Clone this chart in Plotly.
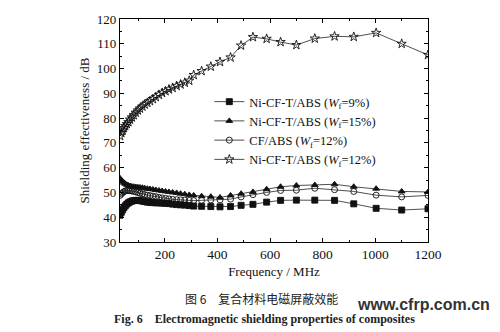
import plotly.graph_objects as go

freq = [30, 35, 40, 45, 50, 56, 62, 68, 75, 82, 90, 98, 106, 115, 124, 134, 144, 155, 166, 178,
        190, 203, 216, 230, 245, 260, 276, 293, 310, 340, 375, 410, 450, 490, 535, 587, 640, 700,
        770, 845, 918, 1003, 1100, 1200]

se_9 = [40.8, 42.0, 43.0, 43.9, 44.6, 45.3, 45.8, 46.2, 46.5, 46.7, 46.8, 46.8, 46.7, 46.5, 46.3,
        46.1, 46.0, 45.9, 45.8, 45.8, 45.7, 45.6, 45.5, 45.3, 45.1, 45.0, 44.9, 44.7, 44.5, 44.4,
        44.3, 44.2, 44.3, 44.8, 45.2, 46.1, 46.8, 46.9, 46.9, 46.8, 45.4, 43.6, 42.9, 43.4]

se_15 = [55.7, 55.0, 54.4, 53.9, 53.5, 53.1, 52.8, 52.6, 52.4, 52.3, 52.2, 52.1, 52.0, 51.9, 51.7,
         51.5, 51.4, 51.2, 51.0, 50.8, 50.6, 50.4, 50.2, 50.0, 49.8, 49.5, 49.3, 49.0, 48.8, 48.5,
         48.3, 48.0, 48.8, 49.5, 50.2, 51.3, 52.3, 52.8, 53.0, 53.3, 52.3, 51.5, 50.4, 50.2]

se_cf = [48.8, 49.4, 49.9, 50.3, 50.6, 50.8, 50.8, 50.7, 50.6, 50.4, 50.2, 50.0, 49.7, 49.4, 49.1,
         48.9, 48.7, 48.5, 48.3, 48.0, 47.8, 47.6, 47.4, 47.2, 47.1, 47.0, 46.9, 46.8, 46.7, 46.8,
         47.0, 47.0, 47.3, 48.2, 49.1, 50.0, 50.8, 50.9, 51.7, 51.1, 50.4, 48.9, 48.2, 48.8]

se_12 = [72.8, 74.0, 75.0, 76.0, 76.8, 77.6, 78.4, 79.4, 80.3, 81.2, 82.2, 83.1, 83.9, 84.7, 85.5,
         86.2, 86.9, 87.7, 88.5, 89.4, 90.2, 90.9, 91.6, 92.2, 93.0, 93.6, 94.3, 95.1, 97.4, 99.0,
         100.8, 102.7, 104.5, 109.3, 112.7, 112.0, 110.7, 109.5, 112.1, 113.0, 112.8, 114.4, 110.0, 105.5]

names = ["Ni-CF-T/ABS (<i>W</i><sub>f</sub>=9%)",
         "Ni-CF-T/ABS (<i>W</i><sub>f</sub>=15%)",
         "CF/ABS (<i>W</i><sub>f</sub>=12%)",
         "Ni-CF-T/ABS (<i>W</i><sub>f</sub>=12%)"]
symbols = ["square", "triangle-up", "circle-open", "star-open"]
sizes = [6, 6, 6, 7]
series = [se_9, se_15, se_cf, se_12]

serif = "Liberation Serif, Times New Roman, serif"
fig = go.Figure()
for nm, sym, sz, ys in zip(names, symbols, sizes, series):
    fig.add_trace(go.Scatter(
        x=freq, y=ys, name=nm, mode="lines+markers",
        line=dict(color="#222", width=0.8),
        marker=dict(symbol=sym, size=sz, color="#111",
                    line=dict(color="#111", width=0.9)),
    ))

axis_common = dict(showline=True, linecolor="black", linewidth=1.2, mirror="ticks",
                   ticks="inside", ticklen=4, tickcolor="black", showgrid=False, zeroline=False)

fig.update_xaxes(range=[30, 1200], tickvals=[200, 400, 600, 800, 1000, 1200],
                 minor=dict(tickvals=[100, 300, 500, 700, 900, 1100], ticks="inside", ticklen=2, tickcolor="black"),
                 tickfont=dict(family=serif, size=13.5, color="#111"),
                 title=dict(text="Frequency / MHz", font=dict(family=serif, size=13, color="#111"), standoff=5),
                 **axis_common)
fig.update_yaxes(range=[30, 120], dtick=10,
                 minor=dict(dtick=5, ticks="inside", ticklen=2, tickcolor="black"),
                 tickfont=dict(family=serif, size=13, color="#111"),
                 title=dict(text="Shielding effectiveness / dB", font=dict(family=serif, size=13, color="#111"), standoff=4),
                 **axis_common)

fig.update_layout(
    width=500, height=332,
    margin=dict(l=120, r=72, t=14, b=90),
    paper_bgcolor="white", plot_bgcolor="white",
    showlegend=True,
    legend=dict(x=0.29, y=0.695, xanchor="left", yanchor="top", bgcolor="rgba(0,0,0,0)",
                font=dict(family=serif, size=12.5, color="#111"), tracegroupgap=0,
                itemwidth=30),
    annotations=[
        dict(text="图 6　复合材料电磁屏蔽效能", x=0.459, y=-0.254, xref="paper", yref="paper",
             showarrow=False, font=dict(family="Noto Sans CJK SC", size=12, color="#222"),
             xanchor="center", yanchor="middle"),
        dict(text="<b>Fig. 6　Electromagnetic shielding properties of composites</b>",
             x=-0.025, y=-0.345, xref="paper", yref="paper", showarrow=False, xanchor="left", yanchor="middle",
             font=dict(family=serif, size=12, color="#222")),
        dict(text="<b>www.cfrp.com.cn</b>", x=1.0, y=-0.28, xref="paper", yref="paper", showarrow=False,
             xanchor="right", yanchor="middle", xshift=64,
             font=dict(family="Liberation Sans Narrow, Liberation Sans, Arial", size=16, color="#333")),
    ],
)

fig.write_html("out.html")
